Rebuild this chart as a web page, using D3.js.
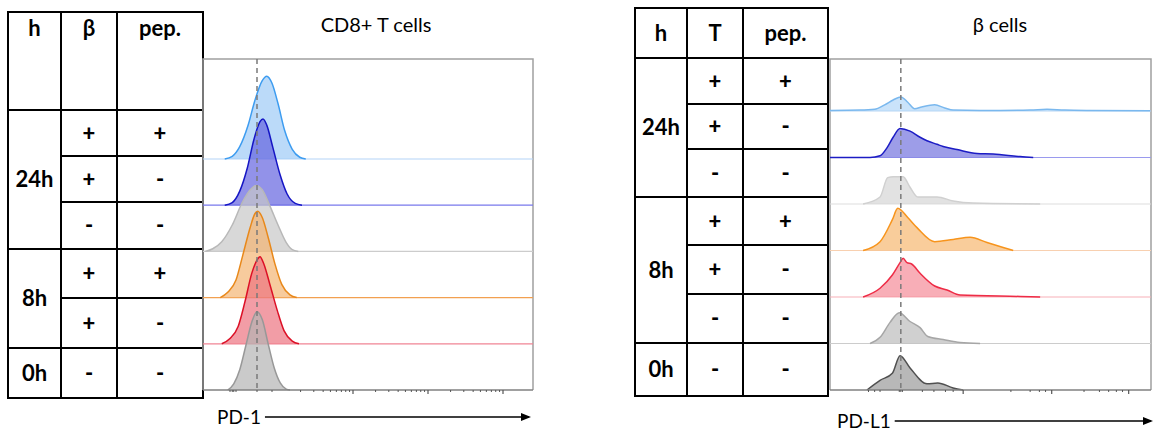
<!DOCTYPE html>
<html>
<head>
<meta charset="utf-8">
<script src="https://cdn.jsdelivr.net/npm/d3@7"></script>
<style>
body { margin: 0; background: #fff; }
text { font-family: Lato, "Open Sans", sans-serif; }
</style>
</head>
<body>
<svg id="chart" width="1153" height="433"></svg>
<script>
'use strict';

// ---- left panel : CD8+ T cells, PD-1 ----
var leftTitle = "CD8+ T cells";
var leftAxisLabel = "PD-1";
var leftHeader = ["h", "β", "pep."];
var leftGroups = [{label: "24h", rows: 3}, {label: "8h", rows: 2}, {label: "0h", rows: 1}];
var leftCol2 = ["+", "+", "-", "+", "+", "-"];
var leftCol3 = ["+", "-", "-", "+", "-", "-"];

// histograms, [display units (decades), % of max]
var leftLightBlue = [[1.29,0],[1.39,3],[1.49,14],[1.6,38],[1.69,66],[1.79,89],[1.85,94],[1.92,86],[2.0,63],[2.09,32],[2.19,11],[2.29,2],[2.37,0]];
var leftBlue = [[1.29,0],[1.39,3],[1.49,16],[1.59,42],[1.68,75],[1.76,95],[1.8,98],[1.85,91],[1.93,66],[2.03,34],[2.12,13],[2.23,2],[2.32,0]];
var leftGray24 = [[1.03,0],[1.13,3],[1.25,11],[1.39,30],[1.52,55],[1.63,70],[1.71,75],[1.79,70],[1.89,52],[2.0,30],[2.11,10],[2.19,2],[2.27,0]];
var leftOrange = [[1.23,0],[1.33,6],[1.44,20],[1.53,48],[1.63,80],[1.69,95],[1.73,98],[1.79,91],[1.87,68],[1.96,38],[2.05,15],[2.16,3],[2.25,0]];
var leftRed = [[1.25,0],[1.36,6],[1.47,20],[1.56,48],[1.65,80],[1.72,95],[1.76,99],[1.81,91],[1.89,68],[1.99,38],[2.08,15],[2.19,3],[2.28,0]];
var leftGray0 = [[1.33,0],[1.41,7],[1.49,23],[1.57,50],[1.65,77],[1.72,89],[1.79,80],[1.87,52],[1.95,25],[2.03,8],[2.11,1],[2.16,0]];
var leftMarker = 1.72;

// ---- right panel : beta cells, PD-L1 ----
var rightTitle = "β cells";
var rightAxisLabel = "PD-L1";
var rightHeader = ["h", "T", "pep."];
var rightGroups = [{label: "24h", rows: 3}, {label: "8h", rows: 3}, {label: "0h", rows: 1}];
var rightCol2 = ["+", "+", "-", "+", "+", "-", "-"];
var rightCol3 = ["+", "-", "-", "+", "-", "-", "-"];

var rightLightBlue = [[1.0,0.6],[1.39,1],[1.58,2],[1.71,7],[1.82,12.5],[1.92,16],[2.01,10],[2.1,2.5],[2.19,4.5],[2.36,7],[2.49,3.5],[2.6,1],[2.95,0.6],[3.21,0.6],[3.6,1],[3.82,2],[4.05,1],[4.38,0.6],[5.16,0.3]];
var rightBlue = [[1.0,0],[1.52,0],[1.65,2],[1.74,11],[1.82,23],[1.91,33],[2.04,30],[2.17,23],[2.26,19],[2.39,15],[2.47,12.5],[2.65,9],[2.91,4.5],[3.12,4],[3.47,1],[3.64,0]];
var rightGray24 = [[1.43,0],[1.65,8],[1.75,30],[1.82,31],[1.95,31],[2.04,19],[2.14,8],[2.39,8],[2.6,3.4],[2.86,1],[3.73,0]];
var rightOrange = [[1.43,0],[1.65,10],[1.81,35],[1.88,48],[2.01,37.5],[2.13,26],[2.36,10],[2.6,12.5],[2.82,15],[3.04,9],[3.25,3.4],[3.38,0]];
var rightRed = [[1.43,0],[1.65,10],[1.81,25],[1.91,39],[1.95,44],[2.0,39],[2.06,37.5],[2.17,27],[2.36,12.5],[2.52,8],[2.69,2.3],[3.47,0.6],[3.73,0]];
var rightGray8 = [[1.52,0],[1.65,7],[1.78,24],[1.9,35],[2.04,25],[2.17,18],[2.27,8],[2.47,4.5],[2.69,1],[2.95,0]];
var rightGray0 = [[1.48,0],[1.65,11],[1.81,19],[1.91,39],[2.04,25],[2.26,7],[2.4,8],[2.6,2.3],[2.73,0]];
var rightMarker = 1.92;
var rightMajorTicks = [2.73, 3.88, 4.88];

var svg = d3.select("#chart");

function drawTable(cfg) {
    var g = svg.append("g");
    var rows = cfg.rowEdges;
    var x = cfg.colEdges;
    var top = cfg.top;

    g.append("rect").attr("x", x[0]).attr("y", top).attr("width", x[3] - x[0]).attr("height", rows[rows.length - 1] - top)
        .attr("fill", "none").attr("stroke", "#000").attr("stroke-width", 2);
    [x[1], x[2]].forEach(function (cx) {
        g.append("line").attr("x1", cx).attr("x2", cx).attr("y1", top).attr("y2", rows[rows.length - 1])
            .attr("stroke", "#000").attr("stroke-width", 2);
    });

    // header
    cfg.header.forEach(function (t, i) {
        g.append("text").attr("x", (x[i] + x[i + 1]) / 2).attr("y", cfg.headerY)
            .attr("text-anchor", "middle").attr("font-weight", "bold").attr("font-size", 22).text(t);
    });

    // group labels + row lines
    var r = 0;
    cfg.groups.forEach(function (grp) {
        var y0 = rows[r], y1 = rows[r + grp.rows];
        g.append("line").attr("x1", x[0]).attr("x2", x[3]).attr("y1", y0).attr("y2", y0).attr("stroke", "#000").attr("stroke-width", 2);
        g.append("text").attr("x", (x[0] + x[1]) / 2).attr("y", (y0 + y1) / 2).attr("dy", "0.35em")
            .attr("text-anchor", "middle").attr("font-weight", "bold").attr("font-size", 22).text(grp.label);
        for (var k = 1; k < grp.rows; k++) {
            g.append("line").attr("x1", x[1]).attr("x2", x[3]).attr("y1", rows[r + k]).attr("y2", rows[r + k])
                .attr("stroke", "#000").attr("stroke-width", 2);
        }
        r += grp.rows;
    });

    // +/- cells
    [cfg.col2, cfg.col3].forEach(function (col, ci) {
        g.selectAll(null).data(col).enter().append("text")
            .attr("x", (x[ci + 1] + x[ci + 2]) / 2)
            .attr("y", function (d, i) { return (rows[i] + rows[i + 1]) / 2; })
            .attr("dy", "0.35em").attr("text-anchor", "middle").attr("font-weight", "900").attr("font-size", 22)
            .text(function (d) { return d; });
    });
}

function drawPlot(cfg) {
    var g = svg.append("g");
    var x = d3.scaleLinear().domain(cfg.domain).range([cfg.left, cfg.right]);
    var base = d3.scalePoint().domain(d3.range(cfg.series.length)).range([cfg.firstBase, cfg.bottom]);
    var h = d3.scaleLinear().domain([0, 100]).range([0, 88]);

    // frame
    g.append("path").attr("d", "M" + cfg.left + "," + cfg.bottom + "V" + cfg.top + "H" + cfg.right + "V" + cfg.bottom)
        .attr("fill", "none").attr("stroke", "#a0a0a0").attr("stroke-width", 1.5);

    cfg.series.forEach(function (s, i) {
        var b = base(i);
        var area = d3.area().x(function (d) { return x(d[0]); }).y0(b)
            .y1(function (d) { return b - h(d[1]); }).curve(d3.curveMonotoneX);
        var line = d3.line().x(function (d) { return x(d[0]); })
            .y(function (d) { return b - h(d[1]); }).curve(d3.curveMonotoneX);
        if (i < cfg.series.length - 1) {
            g.append("line").attr("x1", cfg.left).attr("x2", cfg.right).attr("y1", b).attr("y2", b)
                .attr("stroke", s.base).attr("stroke-width", 1.2);
        }
        g.append("path").datum(s.data).attr("d", area).attr("fill", s.fill).attr("fill-opacity", 0.7);
        g.append("path").datum(s.data).attr("d", line).attr("fill", "none").attr("stroke", s.stroke).attr("stroke-width", 1.5);
    });

    // bottom axis
    g.append("line").attr("x1", cfg.left).attr("x2", cfg.right).attr("y1", cfg.bottom).attr("y2", cfg.bottom)
        .attr("stroke", "#808080").attr("stroke-width", 1.5);
    g.selectAll(null).data(cfg.minorTicks).enter().append("line")
        .attr("x1", function (d) { return x(d); }).attr("x2", function (d) { return x(d); })
        .attr("y1", cfg.bottom).attr("y2", cfg.bottom + 2).attr("stroke", "#555").attr("stroke-width", 1);
    g.selectAll(null).data(cfg.majorTicks).enter().append("line")
        .attr("x1", function (d) { return x(d); }).attr("x2", function (d) { return x(d); })
        .attr("y1", cfg.bottom).attr("y2", cfg.bottom + 4).attr("stroke", "#555").attr("stroke-width", 1.2);

    // marker
    g.append("line").attr("x1", x(cfg.marker)).attr("x2", x(cfg.marker)).attr("y1", cfg.top).attr("y2", cfg.bottom)
        .attr("stroke", "#7a7a7a").attr("stroke-width", 1.5).attr("stroke-dasharray", "5,4");

    // title
    svg.append("text").attr("x", cfg.titleX).attr("y", 32).attr("text-anchor", "middle").attr("font-size", 20).text(cfg.title);

    // axis label with arrow
    var lbl = svg.append("text").attr("x", cfg.labelX).attr("y", cfg.labelY).attr("dy", "0.35em")
        .attr("font-size", 19).text(cfg.label);
    var lx = cfg.labelX + lbl.node().getComputedTextLength() + 4;
    svg.append("line").attr("x1", lx).attr("x2", cfg.arrowEnd - 2).attr("y1", cfg.labelY).attr("y2", cfg.labelY)
        .attr("stroke", "#000").attr("stroke-width", 1.3);
    svg.append("path").attr("d", "M" + (cfg.arrowEnd - 10) + "," + (cfg.labelY - 4) + "L" + cfg.arrowEnd + "," + cfg.labelY +
        "L" + (cfg.arrowEnd - 10) + "," + (cfg.labelY + 4) + "Z").attr("fill", "#000");
}

function logTicks(from, to) {
    var out = [];
    for (var d = from; d < to; d++) {
        for (var k = 2; k <= 9; k++) out.push(d + Math.log10(k));
    }
    return out;
}

drawTable({
    top: 12, colEdges: [8, 61, 117, 203], headerY: 36,
    rowEdges: [110, 156, 202, 249, 298, 348, 398],
    header: leftHeader, groups: leftGroups, col2: leftCol2, col3: leftCol3
});

drawPlot({
    domain: [1, 5.4], left: 203, right: 533, top: 59, bottom: 390, firstBase: 159,
    series: [
        {data: leftLightBlue, stroke: "#3d9cf0", fill: "#9ecbf7", base: "#b3d3f7"},
        {data: leftBlue, stroke: "#1515c4", fill: "#6464e0", base: "#7878ec"},
        {data: leftGray24, stroke: "#b8b8b8", fill: "#c8c8c8", base: "#cccccc"},
        {data: leftOrange, stroke: "#e8881a", fill: "#f3b574", base: "#f2a050"},
        {data: leftRed, stroke: "#dc1026", fill: "#ec7480", base: "#f08494"},
        {data: leftGray0, stroke: "#989898", fill: "#b4b4b4", base: "#aaa"}
    ],
    majorTicks: [3, 4, 5], minorTicks: logTicks(2, 5).concat([1.36, 1.39, 1.41, 1.44, 1.72, 1.92]),
    marker: leftMarker, title: leftTitle, titleX: 376, label: leftAxisLabel, labelX: 217, labelY: 417, arrowEnd: 531
});

drawTable({
    top: 8, colEdges: [635, 687, 743, 828], headerY: 41,
    rowEdges: [58, 104, 149, 197, 245, 294, 343, 396],
    header: rightHeader, groups: rightGroups, col2: rightCol2, col3: rightCol3
});

drawPlot({
    domain: [1, 5.17], left: 830, right: 1151, top: 59, bottom: 390, firstBase: 111,
    series: [
        {data: rightLightBlue, stroke: "#7ab8ee", fill: "#b3d7f8", base: "#b8d6f4"},
        {data: rightBlue, stroke: "#1c1cc4", fill: "#7474de", base: "#9a9aee"},
        {data: rightGray24, stroke: "#d0d0d0", fill: "#d6d6d6", base: "#dddddd"},
        {data: rightOrange, stroke: "#f7941c", fill: "#f7b870", base: "#f8d0b0"},
        {data: rightRed, stroke: "#ee2c46", fill: "#f58c98", base: "#f8b0b8"},
        {data: rightGray8, stroke: "#a6a6a6", fill: "#bcbcbc", base: "#cccccc"},
        {data: rightGray0, stroke: "#505050", fill: "#9a9a9a", base: "#aaa"}
    ],
    majorTicks: rightMajorTicks, minorTicks: [1.5, 1.58, 1.65, 1.9, 1.92, 1.94, 2.2, 2.35, 2.5, 2.6, 3.35, 3.6, 3.72, 3.8, 4.3, 4.5, 4.62, 4.72, 4.8],
    marker: rightMarker, title: rightTitle, titleX: 1000, label: rightAxisLabel, labelX: 837, labelY: 421, arrowEnd: 1153
});
</script>
</body>
</html>
